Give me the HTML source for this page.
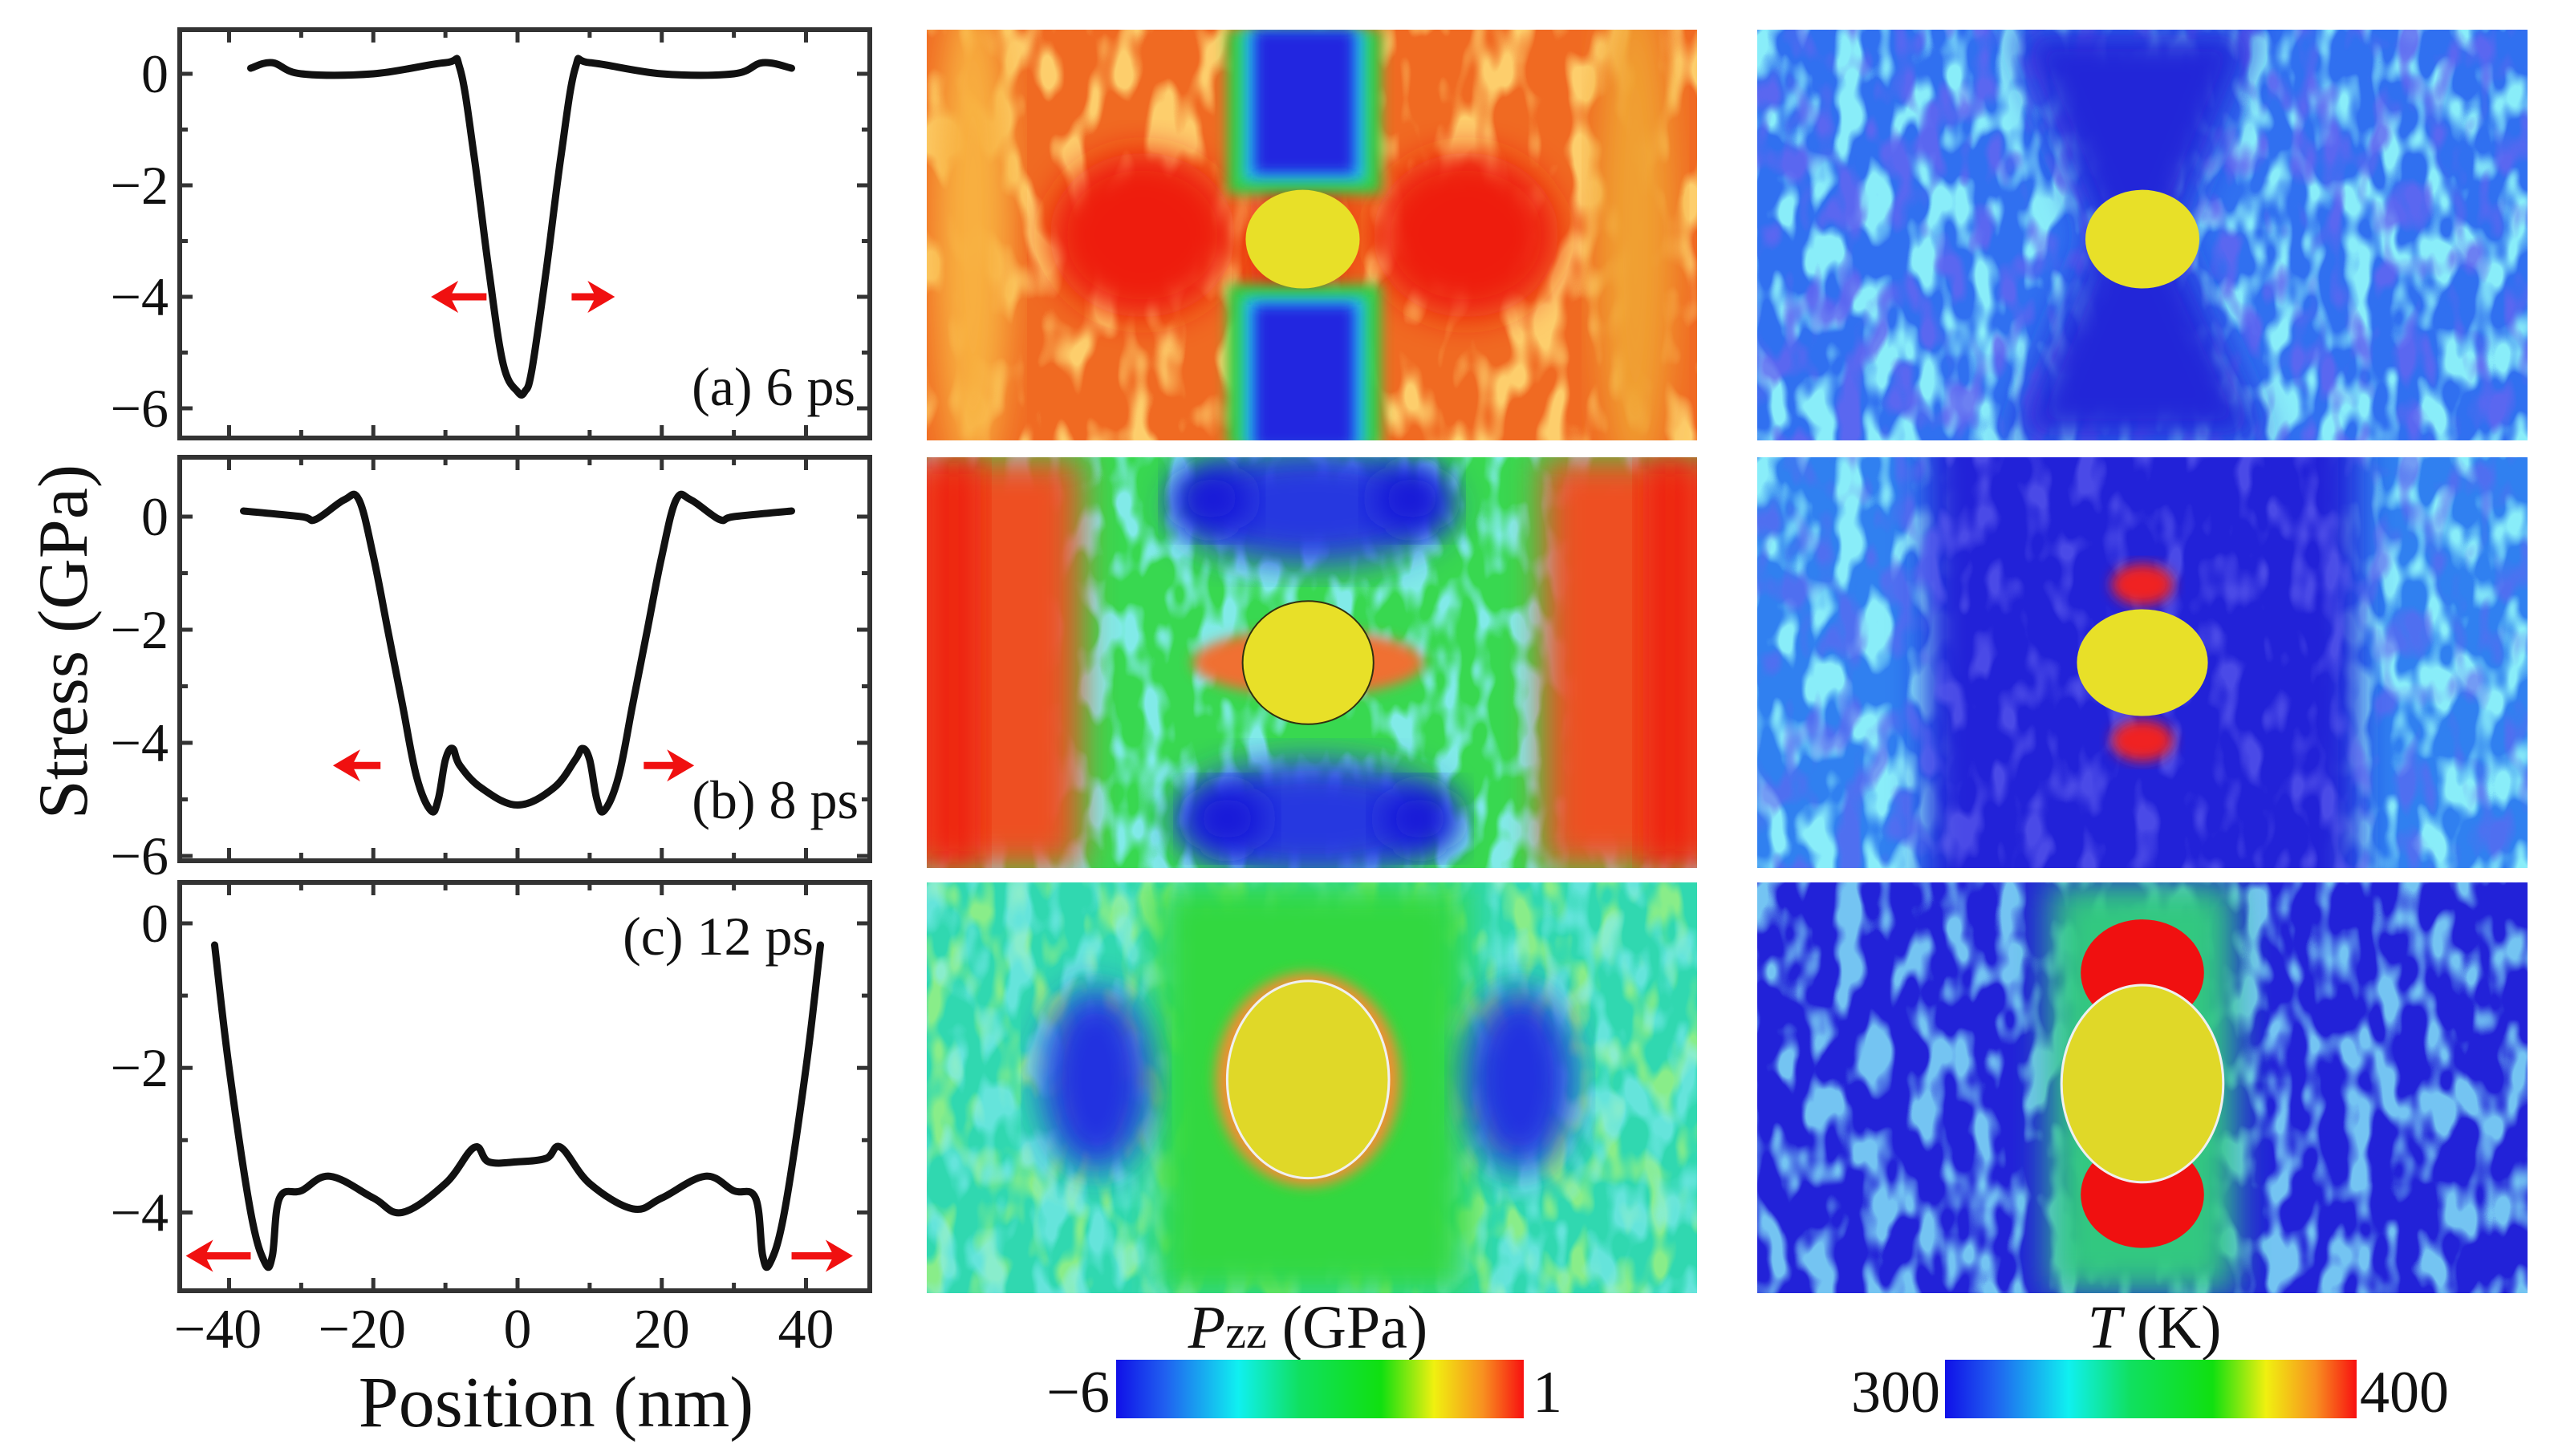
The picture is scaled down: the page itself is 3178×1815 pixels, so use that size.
<!DOCTYPE html>
<html><head><meta charset="utf-8">
<style>
html,body{margin:0;padding:0;background:#fff;}
svg{display:block;}
text{font-family:"Liberation Serif",serif;fill:#111;}
</style></head>
<body>
<svg id="fig" width="3178" height="1815" viewBox="0 0 3178 1815" xmlns="http://www.w3.org/2000/svg">
<defs>
  <filter id="blur" x="-20%" y="-20%" width="140%" height="140%"><feGaussianBlur stdDeviation="22"/></filter>
  <filter id="blurS" x="-20%" y="-20%" width="140%" height="140%"><feGaussianBlur stdDeviation="8"/></filter>
  <filter id="nzCyan" x="0" y="0" width="100%" height="100%"><feTurbulence type="fractalNoise" baseFrequency="0.03 0.016" numOctaves="2" seed="4"/><feColorMatrix type="matrix" values="0 0 0 0 0.25  0 0 0 0 0.85  0 0 0 0 0.95  5 0 0 0 -2.3"/></filter>
  <filter id="nzBlue" x="0" y="0" width="100%" height="100%"><feTurbulence type="fractalNoise" baseFrequency="0.03 0.016" numOctaves="2" seed="9"/><feColorMatrix type="matrix" values="0 0 0 0 0.13  0 0 0 0 0.13  0 0 0 0 0.88  5 0 0 0 -2.5"/></filter>
  <filter id="nzOrange" x="0" y="0" width="100%" height="100%"><feTurbulence type="fractalNoise" baseFrequency="0.025 0.012" numOctaves="2" seed="2"/><feColorMatrix type="matrix" values="0 0 0 0 0.98  0 0 0 0 0.62  0 0 0 0 0.15  5 0 0 0 -2.4"/></filter>
  <filter id="nzGreen" x="0" y="0" width="100%" height="100%"><feTurbulence type="fractalNoise" baseFrequency="0.03 0.015" numOctaves="2" seed="7"/><feColorMatrix type="matrix" values="0 0 0 0 0.25  0 0 0 0 0.85  0 0 0 0 0.25  5 0 0 0 -2.4"/></filter>
  <linearGradient id="jet" x1="0" x2="1" y1="0" y2="0">
    <stop offset="0" stop-color="#1010e8"/><stop offset="0.12" stop-color="#2060f0"/><stop offset="0.3" stop-color="#10f0f0"/>
    <stop offset="0.45" stop-color="#10e060"/><stop offset="0.65" stop-color="#10e010"/><stop offset="0.78" stop-color="#f0f010"/>
    <stop offset="0.9" stop-color="#f89020"/><stop offset="1" stop-color="#f81010"/>
  </linearGradient>
  <clipPath id="cp"><rect x="0" y="0" width="960" height="512"/></clipPath>
</defs>
<g id="plots"></g>
<g id="maps"></g>
<g id="bars">
  <text x="1630" y="1680" font-size="76" text-anchor="middle"><tspan font-style="italic">P</tspan><tspan font-size="58">zz</tspan> (GPa)</text>
  <rect x="1391" y="1695" width="508" height="73" fill="url(#jet)"/>
  <text x="1383" y="1760" font-size="74" text-anchor="end">−6</text>
  <text x="1910" y="1760" font-size="74">1</text>
  <text x="2685" y="1680" font-size="76" text-anchor="middle"><tspan font-style="italic">T</tspan> (K)</text>
  <rect x="2424" y="1695" width="513" height="73" fill="url(#jet)"/>
  <text x="2418" y="1760" font-size="74" text-anchor="end">300</text>
  <text x="2941" y="1760" font-size="74">400</text>
</g>
</svg>
<script>
// ---- data ----
const xA = [-37,-34,-30,-20,-10,-8,-6,-4,-2,0,1,2,4,6,8,10,20,30,34,38];
const yA = [0.1,0.2,0,0,0.2,0.1,-1.5,-3.5,-5.2,-5.7,-5.7,-5.3,-3.5,-1.5,0.1,0.2,0,0,0.2,0.1];
const xB = [-38,-30,-28,-24,-22,-20,-18,-16,-14,-12,-11,-10,-9,-8,-5,0,5,8,9,10,11,12,14,16,18,20,22,24,28,30,38];
const yB = [0.1,0,-0.05,0.3,0.3,-0.7,-2,-3.3,-4.6,-5.2,-5,-4.3,-4.1,-4.4,-4.8,-5.1,-4.8,-4.3,-4.1,-4.3,-5,-5.2,-4.6,-3.3,-2,-0.7,0.3,0.3,-0.05,0,0.1];
const xC = [-42,-40,-37,-35,-34,-33,-30,-26,-20,-16,-10,-6,-4,0,4,6,10,16,20,26,30,33,34,35,37,40,42];
const yC = [-0.3,-2,-4,-4.7,-4.6,-3.8,-3.7,-3.5,-3.8,-4,-3.6,-3.1,-3.3,-3.3,-3.25,-3.1,-3.6,-3.95,-3.8,-3.5,-3.7,-3.8,-4.6,-4.7,-4,-2,-0.3];
const xTicks = [-40,-20,0,20,40];
const yTicksA = [0,-2,-4,-6];
const yTicksC = [0,-2,-4];
const panelLabels = ["(a) 6 ps","(b) 8 ps","(c) 12 ps"];

const NS="http://www.w3.org/2000/svg";
function mk(tag,attrs,parent){const e=document.createElementNS(NS,tag);for(const k in attrs)e.setAttribute(k,attrs[k]);parent.appendChild(e);return e;}
function smooth(pts){
  let d='M'+pts[0][0].toFixed(1)+','+pts[0][1].toFixed(1);
  for(let i=0;i<pts.length-1;i++){
    const p0=pts[Math.max(0,i-1)],p1=pts[i],p2=pts[i+1],p3=pts[Math.min(pts.length-1,i+2)];
    const t=0.18;
    const c1=[p1[0]+(p2[0]-p0[0])*t,p1[1]+(p2[1]-p0[1])*t];
    const c2=[p2[0]-(p3[0]-p1[0])*t,p2[1]-(p3[1]-p1[1])*t];
    d+=` C${c1[0].toFixed(1)},${c1[1].toFixed(1)} ${c2[0].toFixed(1)},${c2[1].toFixed(1)} ${p2[0].toFixed(1)},${p2[1].toFixed(1)}`;
  }
  return d;
}
const plots=document.getElementById('plots');
const X0=224,X1=1084;
const sx=v=>645+v*(1004-285)/80;
const panels=[
 {xs:xA,ys:yA,top:37,bot:546,y0:92,per:69.5,ticks:yTicksA,ymin:-6,lab:panelLabels[0],lx:1066,ly:505,
  arrows:[[-4.3,-12,-4],[7.5,13.5,-4]],name:'a'},
 {xs:xB,ys:yB,top:570,bot:1073,y0:644,per:70.5,ticks:yTicksA,ymin:-6,lab:panelLabels[1],lx:1070,ly:1020,
  arrows:[[-19,-25.6,-4.4],[17.5,24.5,-4.4]],name:'b'},
 {xs:xC,ys:yC,top:1100,bot:1609,y0:1151,per:90.1,ticks:yTicksC,ymin:-4,lab:panelLabels[2],lx:1014,ly:1190,
  arrows:[[-37,-46,-4.6],[38,46.5,-4.6]],name:'c'}
];
panels.forEach((p,i)=>{
 const g=mk('g',{},plots);
 
 
 const sy=v=>p.y0-v*p.per;
 const fr=mk('rect',{x:X0,y:p.top,width:X1-X0,height:p.bot-p.top,fill:'none',stroke:'#333','stroke-width':6},g);
 
 
 for(let v=-40;v<=40;v+=10){
   const len=v%20===0?16:10;
   mk('line',{x1:sx(v),x2:sx(v),y1:p.bot,y2:p.bot-len,stroke:'#333','stroke-width':5},g);
   mk('line',{x1:sx(v),x2:sx(v),y1:p.top,y2:p.top+len,stroke:'#333','stroke-width':5},g);
 }
 for(let v=Math.ceil(p.ymin-0.6);v<=0;v++){
   const y=sy(v); if(y<p.top||y>p.bot) continue;
   const len=v%2===0?16:10;
   mk('line',{x1:X0,x2:X0+len,y1:y,y2:y,stroke:'#333','stroke-width':5},g);
   mk('line',{x1:X1,x2:X1-len,y1:y,y2:y,stroke:'#333','stroke-width':5},g);
 }
 p.ticks.forEach(v=>{
   const t=mk('text',{x:X0-14,y:sy(v)+23,'font-size':68,'text-anchor':'end'},g);
   t.textContent=v===0?'0':'−'+Math.abs(v);
   
   
 });
 const pts=p.xs.map((x,k)=>[sx(x),sy(p.ys[k])]);
 const path=mk('path',{d:smooth(pts),fill:'none',stroke:'#111','stroke-width':9,'stroke-linejoin':'round','stroke-linecap':'round'},g);
 
 
 p.arrows.forEach(a=>{
   const x1=sx(a[0]),x2=sx(a[1]),y=sy(a[2]);const dir=Math.sign(x2-x1);
   const ag=mk('g',{},g);
   
   
   mk('line',{x1:x1,x2:x2-dir*20,y1:y,y2:y,stroke:'#f01010','stroke-width':9},ag);
   mk('path',{d:`M${x2},${y} L${x2-dir*34},${y-20} L${x2-dir*24},${y} L${x2-dir*34},${y+20} Z`,fill:'#f01010'},ag);
 });
 const lt=mk('text',{x:p.lx,y:p.ly,'font-size':68,'text-anchor':'end'},g);
 lt.textContent=p.lab;
 
 
});
xTicks.forEach(v=>{
 const t=mk('text',{x:sx(v)-(v<0?14:0),y:1680,'font-size':70,'text-anchor':'middle'},plots);
 t.textContent=v<0?'−'+Math.abs(v):String(v);
 
 
});
const xt=mk('text',{x:693,y:1778,'font-size':90,'text-anchor':'middle'},plots);
xt.textContent='Position (nm)';


const yt=mk('text',{x:0,y:0,'font-size':88,'text-anchor':'middle',transform:'translate(108,800) rotate(-90)'},plots);
yt.textContent='Stress (GPa)';



// ---- heatmaps (illustrative fields) ----
const maps=document.getElementById('maps');
const W=960,H=512;
const cols=[1155,2190], rows=[37,570,1100];
function panel(c,r,name,build){
 const g=mk('g',{transform:`translate(${cols[c]},${rows[r]})`},maps);
 
 
 const inner=mk('g',{'clip-path':'url(#cp)'},g);
 build(inner);
 return g;
}
function R(p,x,y,w,h,f,extra){return mk('rect',Object.assign({x:x*W,y:y*H,width:w*W,height:h*H,fill:f},extra||{}),p);}
function E(p,cx,cy,rx,ry,f,extra){return mk('ellipse',Object.assign({cx:cx*W,cy:cy*H,rx:rx*W,ry:ry*H,fill:f},extra||{}),p);}
function noise(p,id,op){mk('rect',{x:0,y:0,width:W,height:H,filter:`url(#${id})`,opacity:op||1},p);}
const B={filter:'url(#blur)'};

panel(0,0,'pzz-map-6ps',g=>{
 R(g,0,0,1,1,'#f06a22');
 noise(g,'nzOrange',1);
 E(g,0.06,0.5,0.05,0.6,'#f8b040',B);E(g,0.92,0.5,0.05,0.6,'#f0a030',B);
 E(g,0.28,0.5,0.12,0.2,'#ee1a10',B);E(g,0.7,0.5,0.12,0.2,'#ee1a10',B);
 E(g,0.48,0.5,0.06,0.4,'#e82010',B);
 R(g,0.39,0,0.2,0.4,'#30d040',{filter:'url(#blurS)'});R(g,0.39,0.62,0.2,0.4,'#30d040',{filter:'url(#blurS)'});
 R(g,0.41,0,0.16,0.37,'#20c0f0',{filter:'url(#blurS)'});R(g,0.41,0.65,0.16,0.37,'#20c0f0',{filter:'url(#blurS)'});
 R(g,0.425,0,0.13,0.35,'#2028e0',{filter:'url(#blurS)'});R(g,0.425,0.67,0.13,0.35,'#2028e0',{filter:'url(#blurS)'});
 E(g,0.488,0.51,0.074,0.12,'#e8e028');
});
panel(1,0,'temperature-map-6ps',g=>{
 R(g,0,0,1,1,'#3070f0');
 noise(g,'nzCyan',1);noise(g,'nzBlue',0.8);
 mk('path',{d:`M${0.33*W},0 L${0.65*W},0 L${0.54*W},${0.5*H} L${0.66*W},${H} L${0.33*W},${H} L${0.44*W},${0.5*H} Z`,fill:'#2228d8',filter:'url(#blur)'},g);
 E(g,0.5,0.51,0.074,0.12,'#e8e028');
});
panel(0,1,'pzz-map-8ps',g=>{
 R(g,0,0,1,1,'#38d850');
 noise(g,'nzCyan',0.9);
 R(g,-0.05,0,0.25,1,'#ee5020',B);R(g,0.8,0,0.3,1,'#ee5020',B);
 R(g,0,0,0.07,1,'#ee2010',B);R(g,0.93,0,0.07,1,'#ee2010',B);
 E(g,0.5,0.12,0.18,0.14,'#2838e0',B);E(g,0.5,0.88,0.18,0.14,'#2838e0',B);
 E(g,0.37,0.1,0.05,0.08,'#1818d8',B);E(g,0.63,0.1,0.05,0.08,'#1818d8',B);
 E(g,0.39,0.88,0.05,0.08,'#1818d8',B);E(g,0.64,0.88,0.05,0.08,'#1818d8',B);
 E(g,0.495,0.5,0.15,0.08,'#f07030',{filter:'url(#blurS)'});
 E(g,0.495,0.5,0.085,0.15,'#e8e028',{stroke:'#303010','stroke-width':2});
});
panel(1,1,'temperature-map-8ps',g=>{
 R(g,0,0,1,1,'#3080f0');
 noise(g,'nzCyan',1);
 R(g,0.22,-0.1,0.56,1.2,'#2224d8',B);
 noise(g,'nzBlue',0.6);
 E(g,0.5,0.31,0.04,0.05,'#f02020',{filter:'url(#blurS)'});E(g,0.5,0.69,0.04,0.05,'#f02020',{filter:'url(#blurS)'});
 E(g,0.5,0.5,0.085,0.13,'#e8e028');
});
panel(0,2,'pzz-map-12ps',g=>{
 R(g,0,0,1,1,'#30d8b0');
 noise(g,'nzGreen',1);noise(g,'nzCyan',0.6);
 R(g,0.3,0,0.4,1,'#30d840',B);
 E(g,0.22,0.48,0.07,0.22,'#2030e0',B);E(g,0.77,0.48,0.07,0.22,'#2030e0',B);
 E(g,0.495,0.48,0.12,0.26,'#f09030',{filter:'url(#blurS)'});
 E(g,0.495,0.48,0.105,0.24,'#e0d828',{stroke:'#f0f0f0','stroke-width':3});
});
panel(1,2,'temperature-map-12ps',g=>{
 R(g,0,0,1,1,'#2222d8');
 noise(g,'nzCyan',0.8);
 R(g,0.38,0,0.24,1,'#30c880',B);
 E(g,0.5,0.22,0.08,0.13,'#f01010');E(g,0.5,0.76,0.08,0.13,'#f01010');
 E(g,0.5,0.49,0.105,0.24,'#e0d828',{stroke:'#f0f0f0','stroke-width':3});
});
</script>
</body></html>
